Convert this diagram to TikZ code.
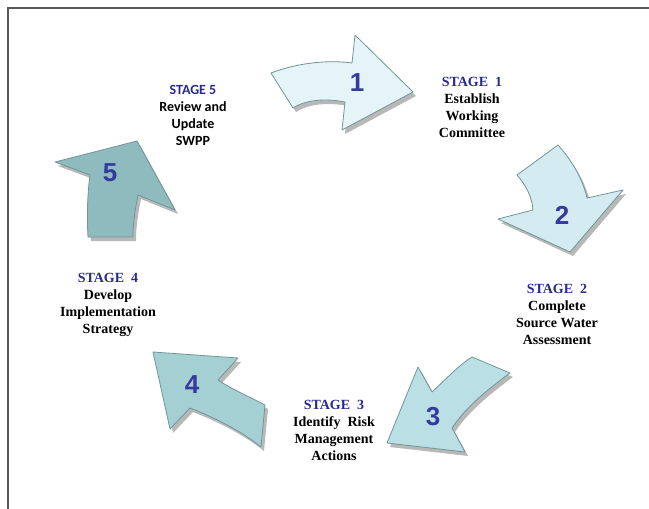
\documentclass[tikz,border=0pt]{standalone}
\usepackage{fontspec}
\setmainfont{Liberation Serif}
\newfontfamily\calibri{Carlito}
\newfontfamily\arialf{Liberation Sans}

\definecolor{stageblue}{RGB}{42,42,140}
\definecolor{numblue}{RGB}{52,58,158}
\definecolor{edgeteal}{RGB}{112,150,152}
\definecolor{fillone}{RGB}{228,244,248}
\definecolor{filltwo}{RGB}{212,236,241}
\definecolor{fillthree}{RGB}{186,224,230}
\definecolor{fillfour}{RGB}{165,208,211}
\definecolor{fillfive}{RGB}{142,187,189}

% arrow outlines, pixel coordinates
\newcommand{\arrowone}{(271,73) .. controls (300,62) and (330,60) .. (352,63) -- (355,35) -- (413,92) -- (342,130) -- (345,102) .. controls (325,98) and (305,100) .. (293,108) -- cycle}
\newcommand{\arrowtwo}{(517,175) -- (558,145) .. controls (573,162) and (583,180) .. (587,198) -- (623,190) -- (570,252) -- (498,219) -- (533,210) .. controls (532,197) and (526,185) .. (517,175) -- cycle}
\newcommand{\arrowthree}{(472,357) -- (510,373) .. controls (487,390) and (466,407) .. (452,428) -- (465,452) -- (387,443) -- (418,367) -- (432,392) .. controls (445,380) and (458,366) .. (472,357) -- cycle}
\newcommand{\arrowfour}{(153,352) -- (238,358) -- (218,380) .. controls (233,390) and (250,397) .. (265,405) -- (261,447) .. controls (240,430) and (213,417) .. (190,408) -- (170,429) -- cycle}
\newcommand{\arrowfive}{(137,141) -- (175,210) -- (138,195) .. controls (135,210) and (133,223) .. (133,237) -- (88,237) .. controls (87,220) and (87,197) .. (90,175) -- (55,162) -- cycle}

\begin{document}
\begin{tikzpicture}[x=1pt,y=-1pt,
  stage/.style={align=center,inner sep=0pt,font=\fontsize{14}{17}\selectfont\bfseries},
  num/.style={text=numblue,inner sep=0pt,font=\arialf\fontsize{26}{26}\selectfont\bfseries},
  shade/.style={fill=black!28,shift={(3,4)}},
  bigarrow/.style={draw=edgeteal,line width=0.8pt,line join=round}]

  \useasboundingbox (0,0) rectangle (649,509);
  \fill[white] (0,0) rectangle (649,509);
  \draw[black!65,line width=1.3pt] (8,509) -- (8,8) -- (649,8);

  % shadows
  \fill[shade] \arrowone;
  \fill[shade] \arrowtwo;
  \fill[shade] \arrowthree;
  \fill[shade] \arrowfour;
  \fill[shade] \arrowfive;

  % arrows
  \filldraw[bigarrow,fill=fillone] \arrowone;
  \filldraw[bigarrow,fill=filltwo] \arrowtwo;
  \filldraw[bigarrow,fill=fillthree] \arrowthree;
  \filldraw[bigarrow,fill=fillfour] \arrowfour;
  \filldraw[bigarrow,fill=fillfive] \arrowfive;

  \node[num] (n1) at (357,83) {1};
  \node[num] (n2) at (562,215) {2};
  \node[num] (n3) at (433,417) {3};
  \node[num] (n4) at (192,385) {4};
  \node[num] (n5) at (110,173) {5};

  \node[stage] (s1) at (472,107) {\textcolor{stageblue}{STAGE\ \ 1}\\Establish\\Working\\Committee};
  \node[stage] (s2) at (557,314) {\textcolor{stageblue}{STAGE\ \ 2}\\Complete\\Source Water\\Assessment};
  \node[stage] (s3) at (334,430) {\textcolor{stageblue}{STAGE\ \ 3}\\Identify\ \ Risk\\Management\\Actions};
  \node[stage] (s4) at (108,305) {\textcolor{stageblue}{STAGE\ \ 4}\\Develop\\Implementation\\Strategy};
  \node[stage,font=\calibri\fontsize{14}{17}\selectfont\bfseries] (s5) at (193,115) {\textcolor{stageblue}{STAGE 5}\\Review and\\Update\\SWPP};
\end{tikzpicture}
\end{document}
